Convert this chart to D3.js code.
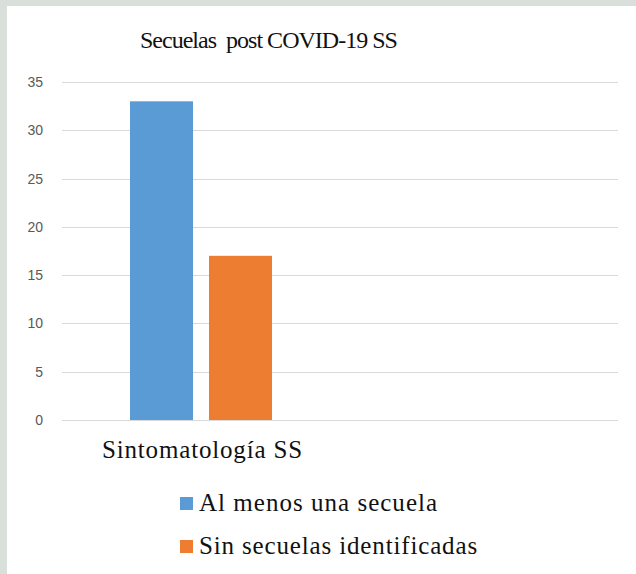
<!DOCTYPE html>
<html><head><meta charset="utf-8">
<script src="https://cdn.jsdelivr.net/npm/d3@7"></script>
<style>html,body{margin:0;padding:0;background:#dde2dd;overflow:hidden}</style>
</head><body>
<svg id="chart" width="636" height="574"></svg>
<script>
const title = "Secuelas  post COVID-19 SS";
const categories = ["Sintomatología SS", ""];
const seriesNames = ["Al menos una secuela", "Sin secuelas identificadas"];
const seriesColors = ["#5b9bd5", "#ed7d31"];
const alMenosUnaSecuela = [33, null];
const sinSecuelas = [17, null];
const yTicks = [0, 5, 10, 15, 20, 25, 30, 35];

(function(){
const series = [alMenosUnaSecuela, sinSecuelas];
const svg = d3.select("#chart");

svg.append("rect").attr("x",0).attr("y",0).attr("width",636).attr("height",574).attr("fill","#d9dfda");
svg.append("rect").attr("x",7).attr("y",6).attr("width",629).attr("height",568).attr("fill","#ffffff");

const pLeft = 62, pRight = 618, pTop = 82, pBottom = 420;
const x = d3.scaleBand().domain(categories).range([pLeft, pRight]).paddingInner(0).paddingOuter(0);
const y = d3.scaleLinear().domain([0, 35]).range([pBottom, pTop]);

svg.append("g").selectAll("line").data(yTicks).join("line")
  .attr("x1", pLeft).attr("x2", pRight)
  .attr("y1", d => Math.round(y(d)) + 0.5).attr("y2", d => Math.round(y(d)) + 0.5)
  .attr("stroke", "#d9d9d9").attr("stroke-width", 1);

const yAxis = d3.axisLeft(y).tickValues(yTicks).tickSize(0).tickPadding(0);
const ga = svg.append("g").attr("transform", `translate(43,0)`).call(yAxis);
ga.select(".domain").remove();
ga.attr("font-family", null).attr("font-size", null);
ga.selectAll("text").style("font-family", `"Liberation Sans"`)
  .style("font-size", "14px").attr("fill", "#595959");

const barW = 63, gap = 16;
const inner = d3.scaleBand().domain(d3.range(series.length)).range([-(barW*2+gap)/2, (barW*2+gap)/2]).paddingInner(gap/(barW+gap)).paddingOuter(0);
categories.forEach((c, ci) => {
  series.forEach((s, si) => {
    if (s[ci] == null) return;
    const cx = x(c) + x.bandwidth()/2;
    svg.append("rect")
      .attr("x", cx + inner(si)).attr("width", inner.bandwidth())
      .attr("y", y(s[ci])).attr("height", y(0) - y(s[ci]))
      .attr("fill", seriesColors[si]);
  });
});

function serifText(x0, y0, str, target, size) {
  const t = svg.append("text").attr("x", x0).attr("y", y0)
    .style("font-family", `"Times New Roman", "Liberation Serif", serif`)
    .style("font-size", size + "px").attr("fill", "#111")
    .style("white-space", "pre").text(str);
  const natural = t.node().getComputedTextLength();
  const ls = Math.max(-1, Math.min(1.2, (target - natural) / Math.max(1, str.length)));
  t.style("letter-spacing", ls.toFixed(2) + "px");
  return t;
}

categories.filter(d => d).forEach(d => serifText(102, 458, d, 201, 25));
serifText(140, 48, title, 257, 24);

const legendW = [239, 279];
seriesNames.forEach((n, i) => {
  const ly = 511 + i * 43;
  svg.append("rect").attr("x", 180).attr("y", ly - 14).attr("width", 13).attr("height", 13).attr("fill", seriesColors[i]);
  serifText(199, ly, n, legendW[i], 25);
});
})();
</script>
</body></html>
